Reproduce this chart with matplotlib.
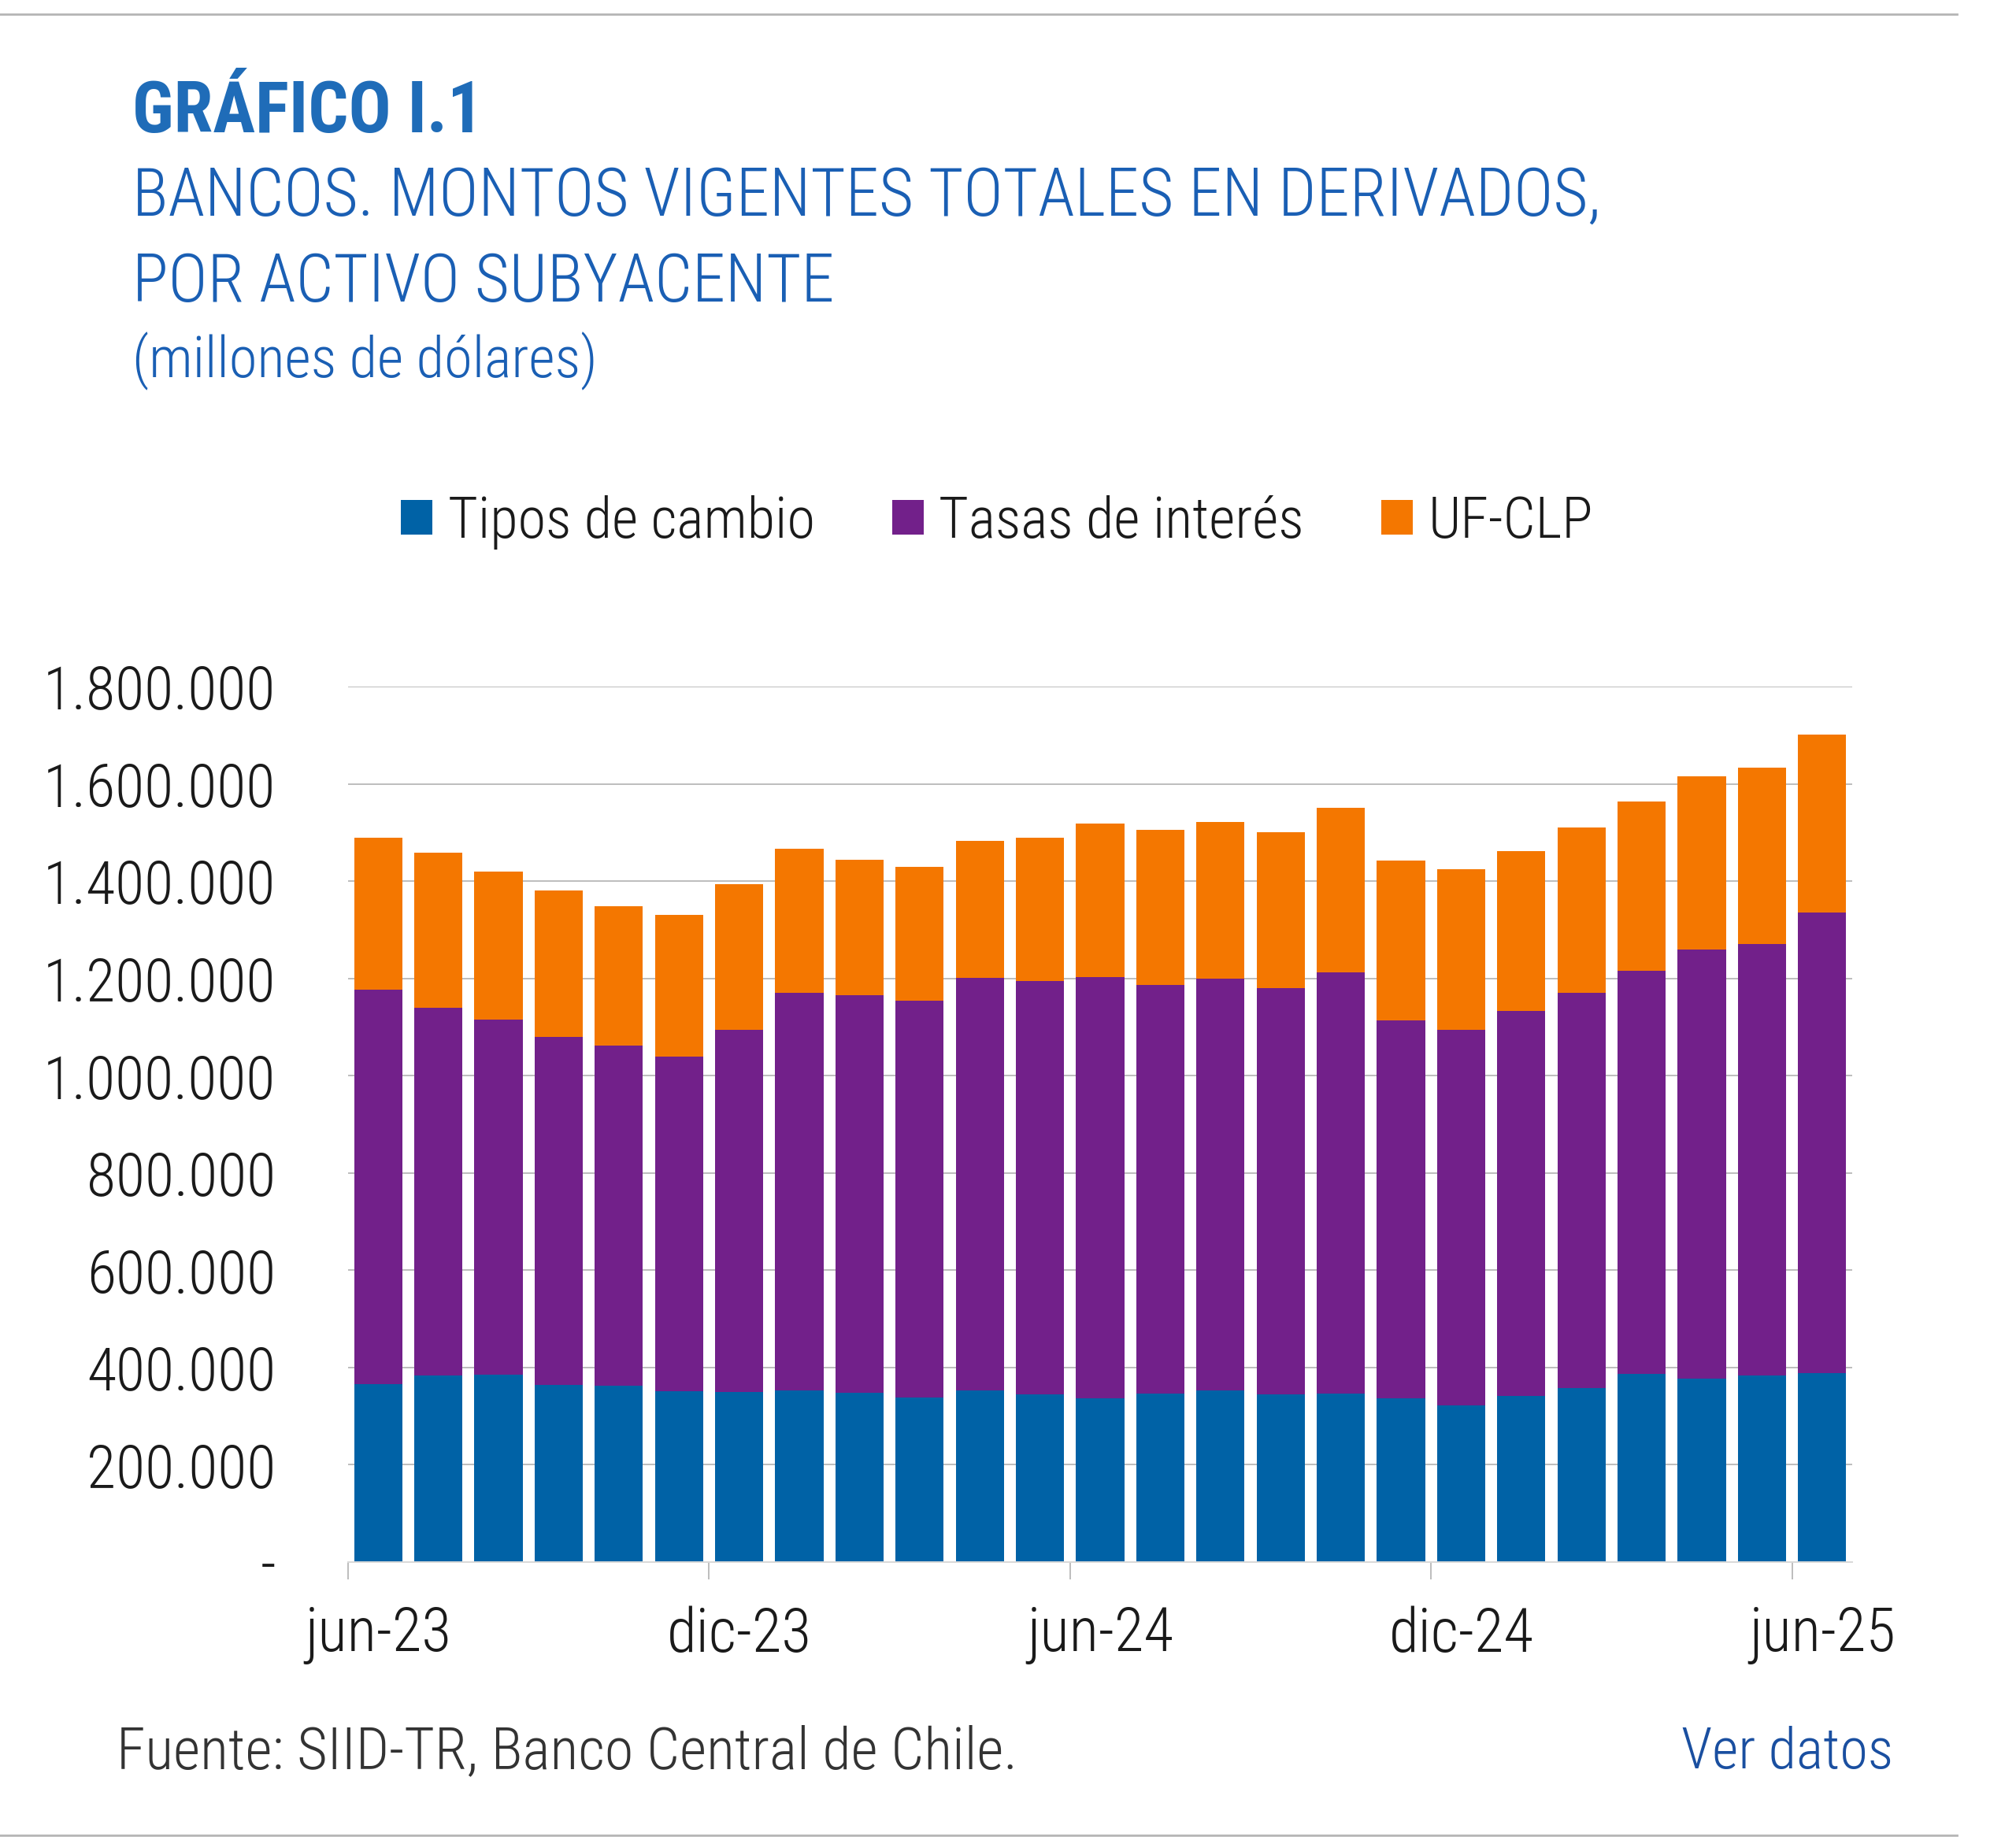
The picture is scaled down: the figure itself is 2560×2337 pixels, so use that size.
import matplotlib
matplotlib.use('Agg')
import matplotlib.pyplot as plt
from matplotlib import font_manager as fm
from matplotlib.patches import Patch
from matplotlib.lines import Line2D
from matplotlib.ticker import FuncFormatter, FixedLocator

# pick a narrow-ish sans if one is there
avail = {}
for f in fm.fontManager.ttflist:
    avail.setdefault(f.name, set()).add(f.weight)
fam = 'DejaVu Sans'
for cand in ['Liberation Sans Narrow', 'Roboto Condensed', 'Open Sans Condensed',
             'Roboto', 'Liberation Sans']:
    if cand in avail:
        fam = cand
        break
light = 'light' if any(w in (300, 'light') for w in avail.get(fam, [])) else 'normal'
plt.rcParams['font.family'] = [fam, 'DejaVu Sans']

months = ['jun-23', 'jul-23', 'ago-23', 'sep-23', 'oct-23', 'nov-23', 'dic-23',
          'ene-24', 'feb-24', 'mar-24', 'abr-24', 'may-24', 'jun-24', 'jul-24',
          'ago-24', 'sep-24', 'oct-24', 'nov-24', 'dic-24', 'ene-25', 'feb-25',
          'mar-25', 'abr-25', 'may-25', 'jun-25']

# millones de dolares
tipos_cambio = [366000, 383000, 385000, 364000, 362000, 352000, 349000, 353000,
                348000, 338000, 353000, 345000, 336000, 346000, 353000, 345000,
                346000, 337000, 322000, 341000, 358000, 387000, 377000, 383000,
                388000]
tasas_interes = [810000, 757000, 730000, 715000, 700000, 688000, 746000, 817000,
                 818000, 816000, 848000, 850000, 867000, 841000, 847000, 835000,
                 866000, 776000, 773000, 792000, 812000, 829000, 882000, 887000,
                 948000]
uf_clp = [313000, 318000, 304000, 302000, 286000, 290000, 298000, 297000,
          278000, 276000, 281000, 294000, 315000, 319000, 322000, 321000,
          338000, 330000, 329000, 329000, 341000, 348000, 356000, 364000,
          366000]

series_names = ['Tipos de cambio', 'Tasas de interés', 'UF-CLP']
colors = ['#0062a6', '#72208a', '#f47700']
y_ticks = [0, 200000, 400000, 600000, 800000, 1000000, 1200000, 1400000,
           1600000, 1800000]

W, H = 2560, 2337
fig = plt.figure(figsize=(W / 100, H / 100), dpi=100)
renderer = fig.canvas.get_renderer()


def fit_size(s, target_px, base=50, **kw):
    t = fig.text(0, 0, s, fontsize=base, **kw)
    w = t.get_window_extent(renderer).width
    t.remove()
    return base * target_px / w


ax = fig.add_axes([442 / W, (H - 1984) / H, (2352 - 442) / W, (1984 - 872) / H])

x = list(range(len(months)))
bottom2 = [a + b for a, b in zip(tipos_cambio, tasas_interes)]
ax.bar(x, tipos_cambio, width=0.8, color=colors[0], zorder=2)
ax.bar(x, tasas_interes, width=0.8, bottom=tipos_cambio, color=colors[1], zorder=2)
ax.bar(x, uf_clp, width=0.8, bottom=bottom2, color=colors[2], zorder=2)

ax.set_xlim(-0.5, len(months) - 0.5)
ax.set_ylim(0, 1800000)
ax.set_yticks(y_ticks)


def fmt(v, pos):
    if v == 0:
        return '-'
    return '{:,.0f}'.format(v).replace(',', '.')


ax.yaxis.set_major_formatter(FuncFormatter(fmt))
ax.grid(axis='y', color='#bdbdbd', linewidth=1.4, zorder=0)
ax.set_axisbelow(True)

for s in ['top', 'right', 'left']:
    ax.spines[s].set_visible(False)
ax.spines['bottom'].set_color('#d9d9d9')
ax.spines['bottom'].set_linewidth(1.4)

ytick_fs = fit_size('1.800.000', 296, weight=light)
xtick_fs = fit_size('jun-23', 186, weight=light)

lab_idx = [0, 6, 12, 18, 24]
ax.set_xticks(lab_idx)
ax.set_xticklabels([months[i] for i in lab_idx], fontweight=light)
ax.xaxis.set_minor_locator(FixedLocator([i - 0.5 for i in lab_idx]))
ax.tick_params(axis='x', which='major', length=0, pad=40, labelsize=xtick_fs,
               labelcolor='#1a1a1a')
ax.tick_params(axis='x', which='minor', length=16, width=1.4, color='#bdbdbd')
ax.tick_params(axis='y', length=0, pad=66, labelsize=ytick_fs, labelcolor='#1a1a1a')
for lab in ax.get_yticklabels():
    lab.set_fontweight(light)

leg_fs = fit_size('Tipos de cambio', 466, weight=light)
handles = [Patch(facecolor=c, edgecolor='none') for c in colors]
leg = fig.legend(handles, series_names, loc='center',
                 bbox_to_anchor=(1266 / W, 1 - 663 / H), ncol=3, frameon=False,
                 prop={'size': leg_fs, 'weight': light},
                 handlelength=40 / (leg_fs * 1.389), handleheight=40 / (leg_fs * 1.389),
                 handletextpad=0.27, columnspacing=1.35, labelcolor='#1a1a1a')

blue = '#1a5fb4'
texts = [
    (168, 168, 'GRÁFICO I.1', 446, dict(weight='bold', color='#1f6cb8'), 'left'),
    (168, 274, 'BANCOS. MONTOS VIGENTES TOTALES EN DERIVADOS,', 1867,
     dict(weight=light, color=blue), 'left'),
    (168, 383, 'POR ACTIVO SUBYACENTE', 892, dict(weight=light, color=blue), 'left'),
    (168, 479, '(millones de dólares)', 591, dict(weight=light, color=blue), 'left'),
    (148, 2246, 'Fuente: SIID-TR, Banco Central de Chile.', 1145,
     dict(weight=light, color='#333333'), 'left'),
    (2404, 2246, 'Ver datos', 269, dict(weight=light, color='#1a4fa0'), 'right'),
]
for px, py, s, tw, kw, ha in texts:
    fs = fit_size(s, tw, **kw)
    fig.text(px / W, 1 - py / H, s, fontsize=fs, va='baseline', ha=ha, **kw)

fig.add_artist(Line2D([0, 2485 / W], [1 - 18 / H, 1 - 18 / H], color='#b5b5b5',
                      linewidth=2, transform=fig.transFigure))
fig.add_artist(Line2D([0, 2485 / W], [1 - 2331 / H, 1 - 2331 / H], color='#b5b5b5',
                      linewidth=2, transform=fig.transFigure))

fig.savefig('out.png', dpi=100, facecolor='white')
